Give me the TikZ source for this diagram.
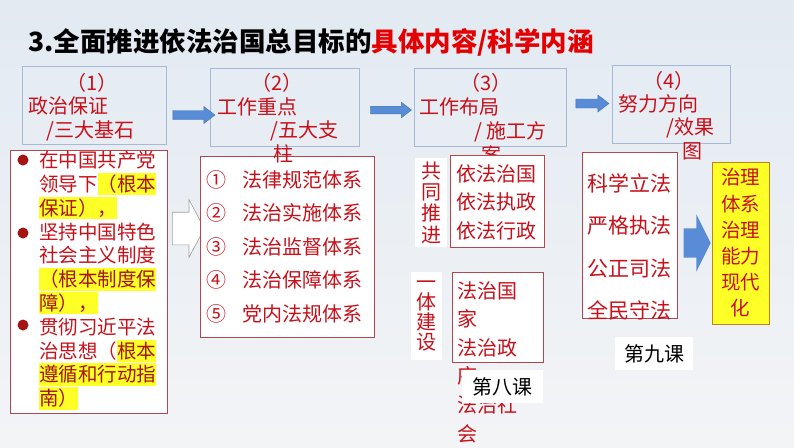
\documentclass[tikz,border=0pt]{standalone}
\usepackage{fontspec}
\setmainfont{Noto Sans CJK SC}
\usepackage{tikz}
\usetikzlibrary{shapes.arrows}

\definecolor{txtred}{RGB}{200,16,26}
\definecolor{hltred}{RGB}{165,20,20}
\definecolor{titred}{RGB}{228,0,0}
\definecolor{boxblue}{RGB}{165,185,215}
\definecolor{boxred}{RGB}{180,70,80}
\definecolor{arrblue}{RGB}{88,140,215}
\definecolor{hlyel}{RGB}{255,255,40}
\definecolor{yelbord}{RGB}{190,130,30}
\definecolor{bgtop}{RGB}{226,234,242}
\definecolor{bgmid}{RGB}{238,241,245}
\definecolor{bgbot}{RGB}{243,244,246}

\newcommand\hlt[1]{{\setlength\fboxsep{0pt}\colorbox{hlyel}{\textcolor{hltred}{\rule[-4pt]{0pt}{22.5pt}#1}}}}

\begin{document}
\begin{tikzpicture}[x=1pt,y=-1pt]
  \tikzset{bluebox/.style={draw=boxblue,line width=0.8pt},
    redbox/.style={draw=boxred,fill=white,line width=0.8pt},
    rtext/.style={text=txtred,align=left,anchor=north west,inner sep=0pt},
    vlabel/.style={fill=white,text=txtred,align=center,inner sep=0pt},
    tagbox/.style={fill=white,text=black,inner sep=0pt,font=\fontsize{20}{24}\selectfont},
    bluearrow/.style={single arrow,fill=arrblue,draw=arrblue!80!black,line width=0.4pt,inner xsep=0pt,
      inner ysep=4.3pt,single arrow head extend=4,single arrow tip angle=75}}
  \useasboundingbox (0,0) rectangle (794,447);
  \shade[top color=bgtop,middle color=bgmid,bottom color=bgbot] (0,0) rectangle (794,447);

  % title
  \node[anchor=base west,inner sep=0pt,font=\fontsize{26.5}{30}\selectfont\bfseries] (title) at (28,51)
    {3.全面推进依法治国总目标的\textcolor{titred}{具体内容/科学内涵}};

  % top row
  \node[bluebox,minimum width=144,minimum height=78] (b1) at (94,105) {};
  \node[bluebox,minimum width=149,minimum height=78] (b2) at (284.5,107) {};
  \node[bluebox,minimum width=152,minimum height=78] (b3) at (490,107) {};
  \node[bluebox,minimum width=118,minimum height=78] (b4) at (671,104) {};
  \node[rtext,font=\fontsize{20}{23.5}\selectfont] (t1) at (28,73)
    {\hspace{38pt}（1）\\政治保证\\\hspace{18pt}/三大基石};
  \node[rtext,font=\fontsize{20}{24}\selectfont] (t3) at (419,73)
    {\hspace{41pt}（3）\\工作布局\\\hspace{55pt}/ 施工方\\\hspace{62pt}案};
  \node[rtext,font=\fontsize{20}{23.3}\selectfont] (t4) at (618,71)
    {\hspace{25pt}（4）\\努力方向\\\hspace{48pt}/效果\\\hspace{64pt}图};
  \node[bluearrow,minimum height=42] (a1) at (191,115) {};
  \node[bluearrow,minimum height=41,inner ysep=3.6pt] (a2) at (388.5,110) {};
  \node[bluearrow,minimum height=33] (a3) at (589.5,103.5) {};

  % column 1
  \node[redbox,minimum width=157,minimum height=263] (guar) at (88.5,281.5) {};
  \foreach \y [count=\i] in {160,233,325}
    \node[circle,fill=hltred,minimum size=11,inner sep=0pt] (dot\i) at (23,\y) {};
  \node[rtext,font=\fontsize{19.5}{23.8}\selectfont] (list) at (39,151) {%
    在中国共产党\\领导下\hlt{（根本}\\\hlt{保证），}\\
    坚持中国特色\\社会主义制度\\\hlt{（根本制度保}\\\hlt{障），}\\
    贯彻习近平法\\治思想（\hlt{根本}\\\hlt{遵循和行动指}\\\hlt{南）}};
  \node[single arrow,draw=gray!75,fill=white,line width=0.6pt,inner xsep=0pt,inner ysep=16pt,
    minimum height=32,single arrow head extend=12.5,single arrow tip angle=124] (ha) at (184,228.5) {};

  % column 2
  \node[redbox,minimum width=174,minimum height=181] (sys) at (287,246.5) {};
  \node[rtext,font=\fontsize{20}{33.5}\selectfont] (t5) at (206,170)
    {①\hspace{16pt}法律规范体系\\②\hspace{16pt}法治实施体系\\③\hspace{16pt}法治监督体系\\
     ④\hspace{16pt}法治保障体系\\⑤\hspace{16pt}党内法规体系};
  \node[rtext,font=\fontsize{20}{23.7}\selectfont] (t2) at (217,73)
    {\hspace{34pt}（2）\\工作重点\\\hspace{53pt}/五大支\\\hspace{56pt}柱};

  % column 3
  \node[redbox,minimum width=94,minimum height=92] (c3a) at (497,201) {};
  \node[rtext,font=\fontsize{20}{28.5}\selectfont] (t3a) at (456,164) {依法治国\\依法执政\\依法行政};
  \node[vlabel,minimum width=32,minimum height=89,font=\fontsize{20}{21.3}\selectfont] (v1) at (431,202.5)
    {共\\同\\推\\进};
  \node[redbox,minimum width=91,minimum height=90] (c3b) at (497.5,317) {};
  \node[rtext,font=\fontsize{20}{28.6}\selectfont] (t3b) at (457,281) {法治国\\家\\法治政\\府\\法治社\\会};
  \node[vlabel,minimum width=31,minimum height=88,font=\fontsize{20}{20.3}\selectfont] (v2) at (426.5,316)
    {一\\体\\建\\设};
  \node[tagbox,minimum width=81,minimum height=33] (k8) at (502.5,386.5) {第八课};

  % column 4
  \node[redbox,minimum width=95,minimum height=166] (c4) at (629.5,235) {};
  \node[rtext,font=\fontsize{21}{42.3}\selectfont] (t4b) at (587,173.5) {科学立法\\严格执法\\公正司法\\全民守法};
  \node[single arrow,fill=arrblue,inner xsep=0pt,inner ysep=14.5pt,minimum height=27,
    single arrow head extend=14,single arrow tip angle=127] (ba) at (693.5,243) {};
  \node[draw=yelbord,fill=hlyel,text=txtred,align=center,inner sep=0pt,line width=0.8pt,
    minimum width=57,minimum height=162,font=\fontsize{19.5}{26.2}\selectfont] (goal) at (740.5,243)
    {治理\\体系\\治理\\能力\\现代\\化};
  \node[tagbox,minimum width=78,minimum height=33] (k9) at (654,353.5) {第九课};
\end{tikzpicture}
\end{document}
